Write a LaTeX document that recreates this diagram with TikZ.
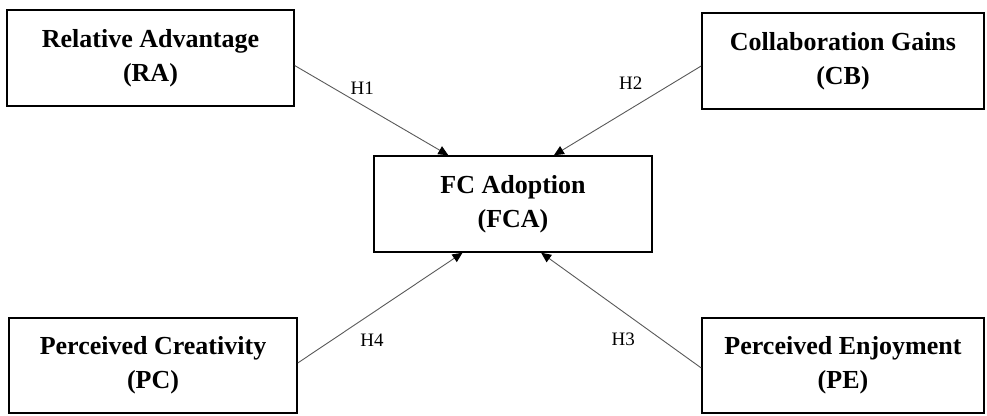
\documentclass[tikz,border=0pt]{standalone}
\usepackage{fontspec}
\setmainfont{Liberation Serif}
\usetikzlibrary{arrows.meta,positioning}

\begin{document}
\begin{tikzpicture}[x=1pt,y=-1pt,
    construct/.style={draw,line width=1.5pt,align=center,inner sep=0pt,
      font=\bfseries\fontsize{26}{34}\selectfont},
    hyp/.style={draw=black!65,line width=0.9pt,
      -{Triangle[length=10pt,width=9pt,color=black]}},
    hlabel/.style={font=\fontsize{19}{21}\selectfont,inner sep=2pt}]
   \useasboundingbox (0,0) rectangle (987,415);
   \node[construct,minimum width=287pt,minimum height=96pt] (ra)  at (150.5,58)  {Relative Advantage\\(RA)};
   \node[construct,minimum width=282pt,minimum height=96pt] (cb)  at (843,61)    {Collaboration Gains\\(CB)};
   \node[construct,minimum width=278pt,minimum height=96pt] (fca) at (513,204)   {FC Adoption\\(FCA)};
   \node[construct,minimum width=288pt,minimum height=95pt] (pc)  at (153,365.5) {Perceived Creativity\\(PC)};
   \node[construct,minimum width=282pt,minimum height=95pt] (pe)  at (843,365.5) {Perceived Enjoyment\\(PE)};
    \draw[hyp] (ra.-3)  -- node[hlabel,pos=0.40,above=4pt,xshift=6pt]        {H1} (fca.143);
    \draw[hyp] (cb.182) -- node[hlabel,pos=0.41,above left=11pt and -4pt]  {H2} (fca.50);
    \draw[hyp] (pe.181) -- node[hlabel,pos=0.43,below left=12pt and -5pt]  {H3} (fca.-60);
    \draw[hyp] (pc.1)   -- node[hlabel,pos=0.39,below right=12pt and -4pt] {H4} (fca.224);
\end{tikzpicture}
\end{document}
